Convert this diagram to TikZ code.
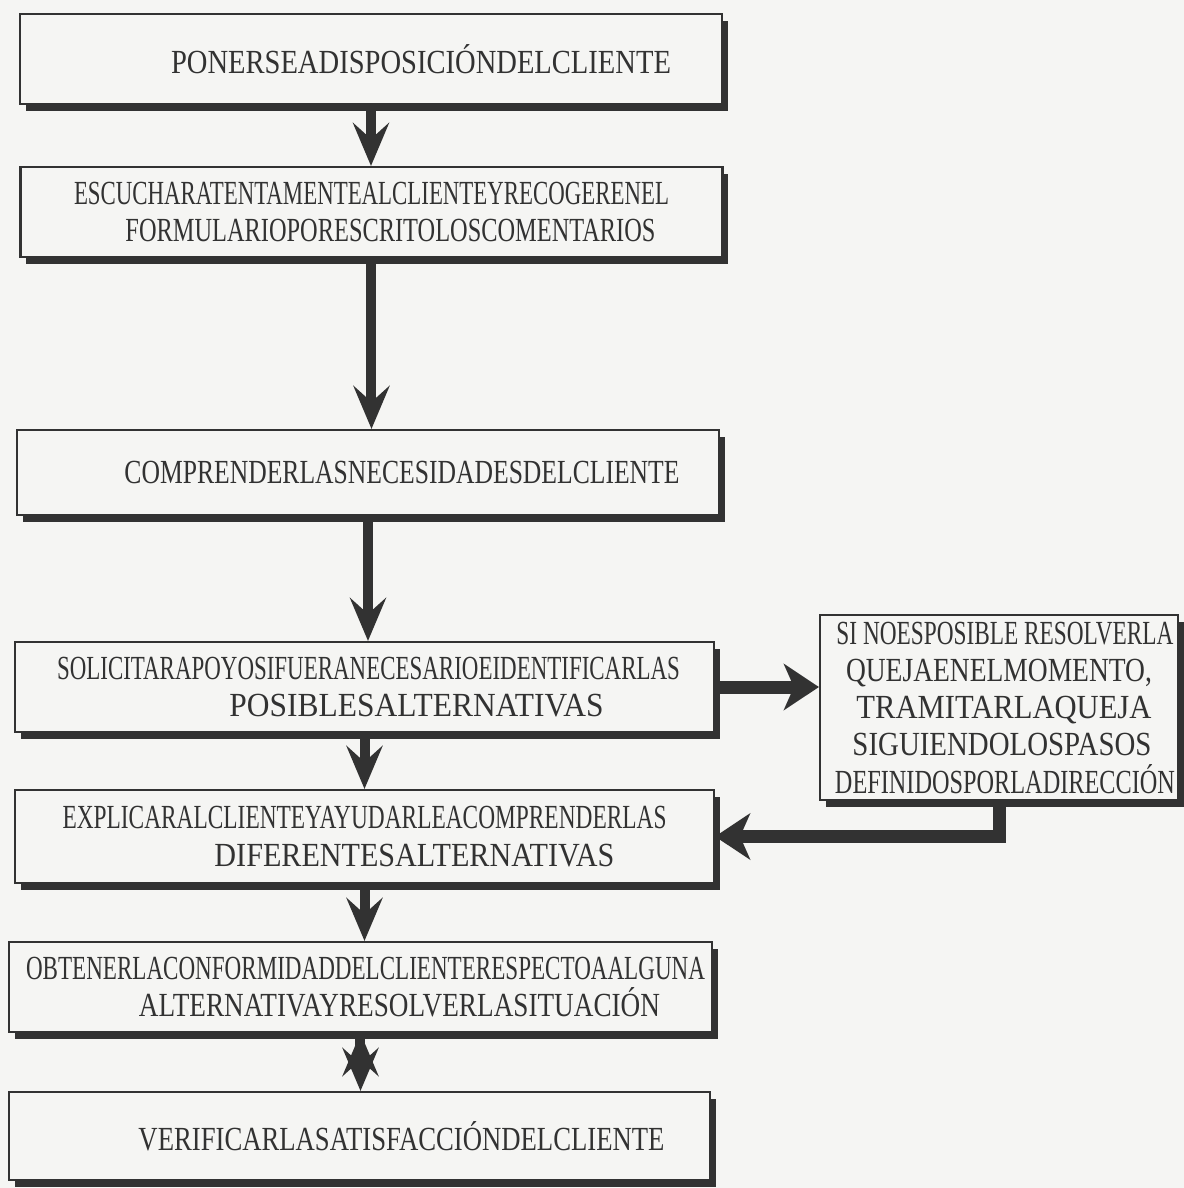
\documentclass[tikz,border=0pt]{standalone}
\usepackage{fontspec}
\setmainfont{Liberation Serif}
\usepackage{graphicx}
\usetikzlibrary{arrows.meta,shadows}

\definecolor{tinta}{RGB}{50,50,50}
\definecolor{papel}{RGB}{245,245,243}
% one line of text pressed to a given width, moved right by the optional length
\newcommand{\linea}[3][0cm]{\makebox[#2][l]{\hspace*{#1}\resizebox{#2}{\height}{#3}}}

\begin{document}
\begin{tikzpicture}[
    paso/.style={draw=tinta, line width=0.6pt, fill=papel, text=tinta, align=center,
      minimum width=7.02cm, minimum height=0.9cm, inner sep=0pt,
      font=\fontsize{9.6}{10.6}\selectfont,
      drop shadow={shadow xshift=0.06cm, shadow yshift=-0.07cm, fill=tinta, opacity=1}},
    flecha/.style={-{Stealth[length=4.3mm,width=3.6mm,inset=1.6mm]}, line width=1mm, draw=tinta},
    flechagruesa/.style={-{Stealth[length=3.5mm,width=4.6mm,inset=1mm]}, line width=1.3mm, draw=tinta}
  ]
  \useasboundingbox[fill=papel] (0,0) rectangle (11.84,-11.88);

  \node[paso] (poner) at (3.71,-0.59) {\linea[0.5cm]{5.00cm}{PONERSEADISPOSICIÓNDELCLIENTE}};
  \node[paso] (escuchar) at (3.715,-2.12)
    {\linea{5.95cm}{ESCUCHARATENTAMENTEALCLIENTEYRECOGERENEL}\\
     \linea[0.19cm]{5.30cm}{FORMULARIOPORESCRITOLOSCOMENTARIOS}};
  \node[paso, minimum height=0.85cm] (comprender) at (3.68,-4.725)
    {\linea[0.34cm]{5.55cm}{COMPRENDERLASNECESIDADESDELCLIENTE}};
  \node[paso, minimum width=6.99cm] (solicitar) at (3.645,-6.87)
    {\linea[0.04cm]{6.23cm}{SOLICITARAPOYOSIFUERANECESARIOEIDENTIFICARLAS}\\
     \linea[0.52cm]{3.74cm}{POSIBLESALTERNATIVAS}};
  \node[paso, minimum width=6.99cm, minimum height=0.93cm] (explicar) at (3.645,-8.365)
    {\linea{6.04cm}{EXPLICARALCLIENTEYAYUDARLEACOMPRENDERLAS}\\
     \linea[0.5cm]{4.00cm}{DIFERENTESALTERNATIVAS}};
  \node[paso, minimum width=7.03cm] (obtener) at (3.605,-9.87)
    {\linea[0.05cm]{6.79cm}{OBTENERLACONFORMIDADDELCLIENTERESPECTOAALGUNA}\\
     \linea[0.39cm]{5.21cm}{ALTERNATIVAYRESOLVERLASITUACIÓN}};
  \node[paso, minimum width=7.01cm, minimum height=0.88cm] (verificar) at (3.595,-11.36)
    {\linea[0.42cm]{5.26cm}{VERIFICARLASATISFACCIÓNDELCLIENTE}};
  \node[paso, minimum width=3.58cm, minimum height=1.85cm] (tramitar) at (9.99,-7.075)
    {\linea[0.06cm]{3.37cm}{SI NOESPOSIBLE RESOLVERLA}\\
     \linea{3.06cm}{QUEJAENELMOMENTO,}\\
     \linea[0.05cm]{2.95cm}{TRAMITARLAQUEJA}\\
     \linea[0.03cm]{2.99cm}{SIGUIENDOLOSPASOS}\\
     \linea[0.06cm]{3.40cm}{DEFINIDOSPORLADIRECCIÓN}};

  \path[flecha]
    (poner.south) edge (poner.south |- escuchar.north)
    (escuchar.south) edge (escuchar.south |- comprender.north)
    (comprender.south) edge (comprender.south |- solicitar.north)
    (solicitar.south) edge (solicitar.south |- explicar.north)
    (explicar.south) edge (explicar.south |- obtener.north)
    (obtener.south) edge (obtener.south |- verificar.north);
  \draw[flechagruesa] (solicitar.east) -- (solicitar.east -| tramitar.west);
  \draw[flechagruesa] (tramitar.south) |- (explicar.east);
\end{tikzpicture}
\end{document}
